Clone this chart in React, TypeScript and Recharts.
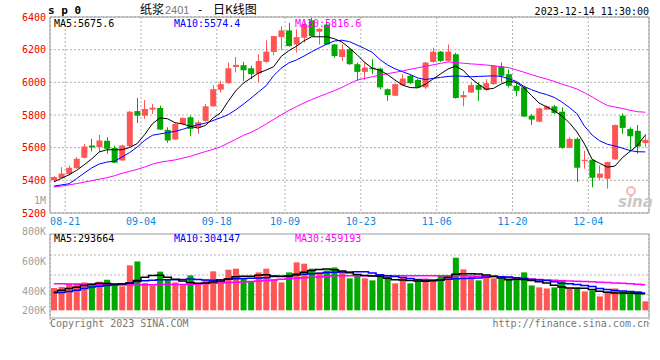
import React from 'react';
import { ComposedChart, Bar, Line, XAxis, YAxis, CartesianGrid, ReferenceArea } from 'recharts';

const N = 79;
const openP = [5400,5414,5439,5475,5538,5613,5603,5642,5599,5522,5609,5824,5796,5833,5843,5709,5650,5745,5786,5725,5764,5853,5955,5995,6094,6105,6086,6054,6125,6186,6277,6318,6232,6273,6380,6310,6354,6232,6155,6202,6111,6064,6090,6084,5958,5918,5983,6040,6015,5969,6125,6188,6131,6172,5908,5938,5983,5954,5989,6097,6050,5979,5969,5796,5759,5833,5853,5820,5599,5654,5518,5526,5416,5410,5528,5796,5715,5703,5628];
const highP = [5425,5481,5490,5542,5623,5654,5678,5664,5613,5617,5825,5904,5891,5867,5857,5725,5750,5786,5796,5766,5867,5983,6009,6121,6155,6125,6101,6172,6257,6285,6344,6364,6324,6375,6395,6330,6364,6235,6232,6212,6121,6125,6141,6090,5962,5992,6050,6045,6020,6125,6212,6192,6232,6180,5948,5999,5999,6019,6105,6121,6080,5999,5979,5806,5845,5858,5861,5847,5664,5664,5581,5528,5491,5514,5741,5810,5725,5739,5684];
const lowP = [5390,5410,5430,5470,5535,5577,5573,5563,5505,5520,5600,5751,5776,5806,5709,5630,5648,5740,5670,5685,5760,5850,5938,5990,6060,6009,6019,5999,6120,6165,6196,6218,6182,6243,6280,6232,6230,6151,6131,6107,6009,6015,6050,5958,5887,5915,5980,5990,5965,5960,6120,6125,6128,5900,5853,5935,5887,5948,5985,5999,5969,5914,5788,5739,5755,5830,5806,5593,5597,5390,5471,5357,5404,5349,5526,5684,5583,5563,5603];
const closeP = [5420,5441,5477,5532,5607,5601,5644,5593,5508,5613,5820,5796,5837,5845,5711,5644,5745,5782,5715,5755,5853,5958,5989,6086,6107,6074,6050,6131,6188,6283,6318,6222,6277,6354,6283,6328,6232,6161,6202,6111,6064,6090,6080,5969,5922,5989,6023,5995,5969,6121,6188,6131,6188,5904,5922,5983,5954,5995,6101,6040,5979,5948,5790,5772,5841,5853,5812,5599,5654,5477,5526,5416,5441,5512,5739,5721,5670,5607,5648];
const ma5 = [5391,5412,5434,5461,5495,5531,5574,5587,5587,5587,5601,5625,5681,5746,5782,5777,5753,5745,5731,5720,5736,5781,5813,5884,5948,5995,6026,6057,6075,6096,6159,6194,6221,6254,6279,6279,6279,6267,6247,6210,6169,6122,6087,6074,6048,6014,5983,5968,5966,5988,6020,6051,6082,6099,6073,6025,5989,5957,5963,5990,6007,5999,5967,5920,5873,5850,5826,5795,5752,5696,5622,5528,5504,5481,5487,5539,5577,5615,5676];
const ma10 = [5364,5372,5379,5410,5444,5476,5500,5512,5517,5543,5570,5604,5645,5676,5684,5692,5700,5712,5728,5740,5750,5766,5783,5802,5832,5866,5903,5941,5979,6041,6087,6119,6137,6161,6187,6211,6234,6253,6258,6249,6228,6207,6184,6140,6107,6083,6065,6048,6027,6017,6024,6030,6036,6039,6037,6034,6036,6038,6040,6036,6022,6006,5975,5955,5938,5925,5908,5880,5846,5808,5731,5677,5642,5621,5610,5597,5582,5575,5574];
const ma30 = [5359,5365,5372,5380,5389,5398,5407,5416,5428,5443,5455,5467,5482,5499,5511,5518,5525,5536,5547,5562,5576,5590,5605,5628,5651,5675,5694,5717,5745,5773,5801,5828,5851,5874,5894,5913,5931,5949,5969,5992,6014,6024,6034,6044,6053,6061,6070,6080,6089,6098,6107,6116,6125,6121,6117,6113,6110,6106,6102,6095,6090,6076,6062,6047,6033,6020,6006,5989,5975,5959,5936,5911,5883,5859,5849,5840,5829,5820,5817];
const volume = [440,447,469,469,477,469,482,495,467,451,591,617,473,457,549,495,477,467,524,467,495,551,489,562,569,500,484,544,569,500,477,544,611,602,569,544,557,577,547,504,533,504,491,517,517,471,511,471,491,504,491,522,517,642,564,517,491,517,504,504,504,498,544,457,444,437,444,491,437,444,417,424,384,417,437,417,417,417,351];
const vma5 = [412,425,436,445,456,465,472,470,466,466,472,490,512,524,525,512,498,487,477,471,474,480,487,500,515,518,519,525,528,520,518,520,532,545,556,563,566,561,554,542,530,523,520,518,505,495,493,490,487,485,488,494,512,532,535,535,534,527,517,506,495,499,496,490,482,474,458,446,440,438,438,430,419,412,406,406,405,404,402];
const vma10 = [408,410,416,425,437,446,452,456,461,468,474,483,489,492,495,495,495,497,500,497,493,491,495,499,501,503,505,507,509,516,517,520,526,531,535,538,543,545,546,547,548,548,540,529,522,516,510,503,497,492,493,495,498,501,503,505,507,512,518,515,513,508,503,496,493,490,482,472,468,463,457,450,437,430,424,420,417,412,406];
const vma30 = [469,468,467,466,465,464,463,462,461,460,460,460,461,462,463,463,464,464,465,467,470,472,474,476,478,480,483,486,490,494,498,502,505,508,511,514,518,521,522,522,522,522,522,522,522,522,522,522,522,522,522,522,522,522,521,520,519,518,516,513,510,507,504,500,497,494,491,489,487,485,483,481,479,476,473,471,468,465,462];

const tickIndex = [2, 12, 22, 31, 41, 51, 61, 71];
const tickLabels = ['08-21', '09-04', '09-18', '10-09', '10-23', '11-06', '11-20', '12-04'];
const priceTicks = [5200, 5400, 5600, 5800, 6000, 6200, 6400];
const volTicks = [200, 400, 600, 800];
const volGridValues = [660, 527, 395];
const VOL_BASE = 291;

const data = openP.map((o, i) => ({
  x: i + 0.5,
  open: o,
  high: highP[i],
  low: lowP[i],
  close: closeP[i],
  range: [lowP[i], highP[i]],
  volRange: [VOL_BASE, volume[i]],
  ma5: ma5[i],
  ma10: ma10[i],
  ma30: ma30[i],
  vma5: vma5[i],
  vma10: vma10[i],
  vma30: vma30[i],
}));

const MONO = '"DejaVu Sans Mono", monospace';
const RED = '#ff5555';
const GREEN = '#00a800';

const Candle = (props: any) => {
  const { x, y, width, height, payload } = props;
  if (x == null || y == null) return null;
  const top = Math.min(y, y + height);
  const h = Math.abs(height);
  const { open, close, high, low } = payload;
  const up = close >= open;
  const color = up ? RED : GREEN;
  const k = h / (high - low);
  const bTop = top + (high - Math.max(open, close)) * k;
  const bBot = top + (high - Math.min(open, close)) * k;
  const cx = Math.floor(x + width / 2) + 0.5;
  return (
    <g>
      <line x1={cx} x2={cx} y1={top} y2={top + h} stroke={color} strokeWidth={1} />
      <rect x={x} y={bTop} width={width} height={Math.max(1, bBot - bTop)} fill={color} />
    </g>
  );
};

const VolBar = (props: any) => {
  const { x, y, width, height, payload } = props;
  if (x == null || y == null) return null;
  const up = payload.close >= payload.open;
  return <rect x={x} y={Math.min(y, y + height)} width={width} height={Math.abs(height)} fill={up ? RED : GREEN} />;
};

const VolTick = (props: any) => {
  const { x, y, payload } = props;
  const yy = Math.min(y - 3, 84);
  return (
    <text x={x} y={yy} dy="0.355em" textAnchor="end" fill="#a0a0a0" fontSize={10} fontFamily={MONO}>
      {payload.value + 'K'}
    </text>
  );
};

export default function App() {
  return (
    <div style={{ position: 'absolute', left: 0, top: 0, width: 660, height: 360, background: '#fff', overflow: 'hidden' }}>
      <div style={{ position: 'absolute', left: 0, top: 0 }}>
        <ComposedChart width={660} height={232} data={data} margin={{ top: 17, right: 11, bottom: 3, left: 0 }}>
          <CartesianGrid stroke="#b4b4b4" strokeDasharray="2 2" />
          <XAxis
            type="number"
            dataKey="x"
            domain={[0, N]}
            ticks={tickIndex}
            interval={0}
            allowDataOverflow
            tickFormatter={(v: number) => tickLabels[tickIndex.indexOf(v)]}
            tick={{ fill: '#1188dd', fontSize: 10, fontFamily: MONO }}
            tickLine={false}
            axisLine={false}
            tickSize={0}
            tickMargin={5}
            height={16}
          />
          <YAxis
            type="number"
            domain={[5200, 6400]}
            ticks={priceTicks}
            interval={0}
            allowDataOverflow
            tick={{ fill: '#ee0000', fontSize: 10, fontFamily: MONO }}
            tickLine={false}
            axisLine={false}
            tickSize={0}
            tickMargin={4}
            width={50}
          />
          <ReferenceArea x1={0} x2={N} y1={5200} y2={6400} fill="none" stroke="#999" strokeWidth={1} />
          <Bar dataKey="range" barSize={6} shape={Candle} isAnimationActive={false} />
          <Line type="linear" dataKey="ma30" stroke="#ff00ff" strokeWidth={1} dot={false} isAnimationActive={false} />
          <Line type="linear" dataKey="ma10" stroke="#0000ff" strokeWidth={1} dot={false} isAnimationActive={false} />
          <Line type="linear" dataKey="ma5" stroke="#000000" strokeWidth={1} dot={false} isAnimationActive={false} />
        </ComposedChart>
      </div>
      <div style={{ position: 'absolute', left: 0, top: 226 }}>
        <ComposedChart width={660} height={100} data={data} margin={{ top: 8, right: 11, bottom: 2, left: 0 }}>
          <CartesianGrid stroke="#b4b4b4" strokeDasharray="2 2" horizontalValues={volGridValues} />
          <XAxis
            type="number"
            dataKey="x"
            domain={[0, N]}
            ticks={tickIndex}
            interval={0}
            tick={false}
            tickLine={false}
            axisLine={false}
            height={0}
          />
          <YAxis
            type="number"
            domain={[200, 800]}
            ticks={volTicks}
            interval={0}
            allowDataOverflow
            tick={VolTick}
            tickLine={false}
            axisLine={false}
            tickSize={0}
            tickMargin={4}
            width={50}
          />
          <ReferenceArea x1={0} x2={N} y1={240} y2={800} fill="none" stroke="#999" strokeWidth={1} />
          <Bar dataKey="volRange" barSize={6} shape={VolBar} isAnimationActive={false} />
          <Line type="step" dataKey="vma30" stroke="#ff00ff" strokeWidth={1.5} dot={false} isAnimationActive={false} />
          <Line type="step" dataKey="vma10" stroke="#0000ff" strokeWidth={1.5} dot={false} isAnimationActive={false} />
          <Line type="step" dataKey="vma5" stroke="#000000" strokeWidth={1.5} dot={false} isAnimationActive={false} />
        </ComposedChart>
      </div>
      <svg width={660} height={360} style={{ position: 'absolute', left: 0, top: 0, pointerEvents: 'none' }}>
        <text x={48} y={14} fontSize={11} fontWeight="bold" fontFamily={MONO} fill="#000">s p 0</text>
        <text x={140} y={14} fontSize={12} fontFamily='"Noto Sans CJK SC", sans-serif' fill="#000">纸浆</text>
        <text x={165} y={14} fontSize={11} fontFamily='"Liberation Sans", sans-serif' fill="#777">2401</text>
        <text x={198} y={14} fontSize={12} fontFamily='"Noto Sans CJK SC", sans-serif' fill="#000">-</text>
        <text x={213} y={14} fontSize={12} fontFamily='"Noto Sans CJK SC", sans-serif' fill="#000">日K线图</text>
        <text x={649} y={15} fontSize={10} fontFamily={MONO} fill="#000" textAnchor="end">2023-12-14 11:30:00</text>
        <text x={54} y={27} fontSize={10} fontFamily={MONO} fill="#000">MA5:5675.6</text>
        <text x={174} y={27} fontSize={10} fontFamily={MONO} fill="#0000ff">MA10:5574.4</text>
        <text x={295} y={27} fontSize={10} fontFamily={MONO} fill="#ff00ff">MA30:5816.6</text>
        <text x={46} y={203.5} fontSize={10} fontFamily={MONO} fill="#a0a0a0" textAnchor="end">1M</text>
        <text x={54} y={242} fontSize={10} fontFamily={MONO} fill="#000">MA5:293664</text>
        <text x={174} y={242} fontSize={10} fontFamily={MONO} fill="#0000ff">MA10:304147</text>
        <text x={295} y={242} fontSize={10} fontFamily={MONO} fill="#ff00ff">MA30:459193</text>
        <text x={50} y={327} fontSize={10} fontFamily={MONO} fill="#777">Copyright 2023 SINA.COM</text>
        <text x={649} y={327} fontSize={10} fontFamily={MONO} fill="#777" textAnchor="end">http://finance.sina.com.cn</text>
        <circle cx={631} cy={191} r={4} fill="none" stroke="#f2b8b8" strokeWidth={2} />
        <text x={618} y={207} fontSize={15} fontStyle="italic" fontWeight="bold" fontFamily='"DejaVu Sans", sans-serif' fill="#c8c8c8">sina</text>
      </svg>
    </div>
  );
}
